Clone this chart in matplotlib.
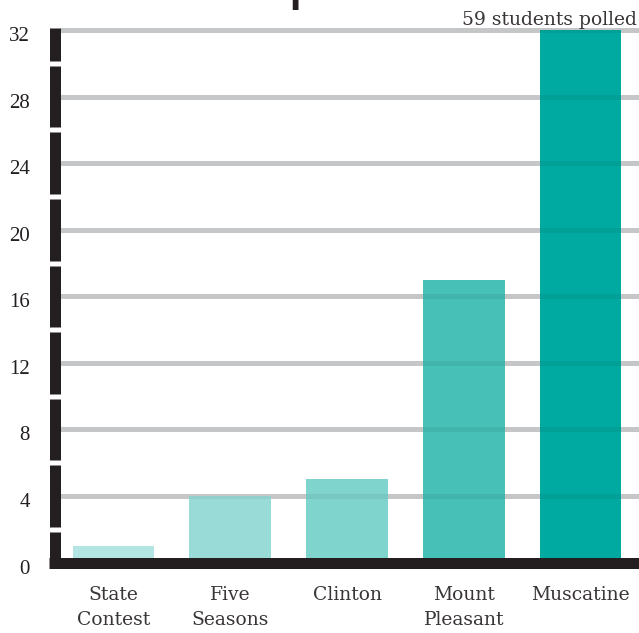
import matplotlib
matplotlib.use("Agg")
import matplotlib.pyplot as plt
import matplotlib.transforms as mtransforms
import numpy as np

categories = ["State\nContest", "Five\nSeasons", "Clinton", "Mount\nPleasant", "Muscatine"]
values = [1, 4, 5, 17, 32]
colors = ["#b3e6e2", "#99dcd7", "#80d4ce", "#47c0b7", "#00aaa0"]
yticks = [0, 4, 8, 12, 16, 20, 24, 28, 32]
note = "59 students polled"
title_visible = "p"

W, H = 639, 633
INK = "#231f20"
fig = plt.figure(figsize=(W / 100, H / 100), dpi=100)
ax_left = 55 / W
ax_bottom = (H - 562.6) / H
ax_top = (H - 30) / H
ax = fig.add_axes([ax_left, ax_bottom, 1 - ax_left, ax_top - ax_bottom])
ax.set_xlim(-0.5, 4.5)
ax.set_ylim(0, 32)
for s in ax.spines.values():
    s.set_visible(False)

blend = mtransforms.blended_transform_factory(ax.transAxes, ax.transData)
px_per_unit = (562.6 - 30) / 32.0

# gridlines (under bars)
grid_x0 = 5 / (W - 55)
for t in yticks[1:]:
    ax.plot([grid_x0, 1.0], [t, t], transform=blend, color="#d2d3d5",
            lw=5 * 0.72, solid_capstyle="butt", zorder=1, clip_on=False)

# bars
x = np.arange(len(categories))
ax.bar(x, values, width=0.70, color=colors, zorder=2, linewidth=0)

# faint gridline show-through over bars
for t in yticks[1:]:
    ax.plot([grid_x0, 1.0], [t, t], transform=blend, color="black", alpha=0.06,
            lw=5 * 0.72, solid_capstyle="butt", zorder=3, clip_on=False)

# segmented left axis
gap = 5 / px_per_unit / 2
edges = sorted(set([0] + [t + 2 for t in yticks[:-1]] + [32]))
for i in range(len(edges) - 1):
    lo = edges[i] + (gap if edges[i] != 0 else -5.5 / px_per_unit)
    hi = edges[i + 1] - gap
    if edges[i + 1] == 32:
        hi = 32 + 2 / px_per_unit
    ax.plot([0, 0], [lo, hi], transform=blend, color=INK,
            lw=11 * 0.72, solid_capstyle="butt", zorder=4, clip_on=False)

# bottom axis
ax.plot([-5.5 / (W - 55), 1.0], [0, 0], transform=blend, color=INK,
        lw=11 * 0.72, solid_capstyle="butt", zorder=4, clip_on=False)

# tick labels
ax.set_yticks(yticks)
ax.set_yticklabels([str(t) for t in yticks], fontfamily="Liberation Serif",
                   fontsize=15, color=INK)
ax.tick_params(axis="y", length=0, pad=18)
shift = mtransforms.ScaledTranslation(0, -4 / 100, fig.dpi_scale_trans)
for lab in ax.get_yticklabels():
    lab.set_transform(lab.get_transform() + shift)
ax.set_xticks(x)
ax.set_xticklabels(categories, fontfamily="DejaVu Serif", fontsize=13.5,
                   color="#3a3637", linespacing=1.5)
ax.tick_params(axis="x", length=0, pad=17)

fig.text(637 / W, (H - 25) / H, note, ha="right", va="baseline",
         fontfamily="DejaVu Serif", fontsize=13.5, color="#3a3637")

# bottom of the (cut-off) title, as in the reference
fig.text(286 / W, (H + 2.5) / H, title_visible, ha="left", va="baseline",
         fontfamily="DejaVu Sans", fontsize=46, color=INK)

fig.savefig("out.png", dpi=100)
